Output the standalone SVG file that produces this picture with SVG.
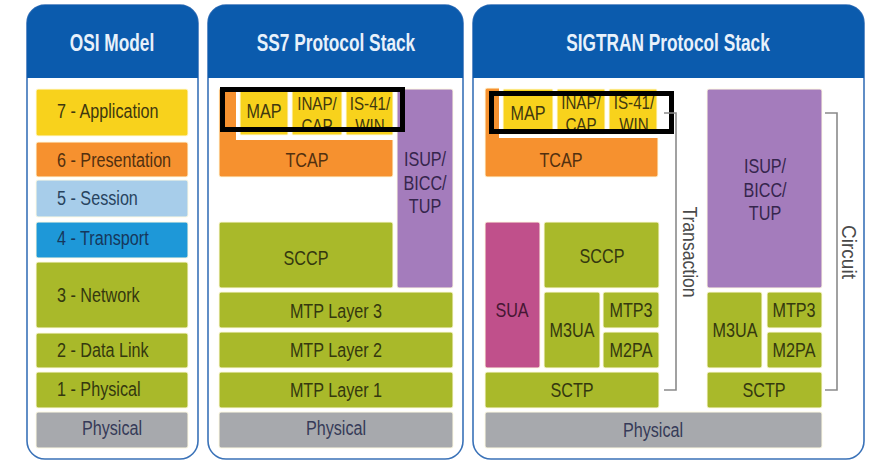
<svg xmlns="http://www.w3.org/2000/svg" width="872" height="461" viewBox="0 0 872 461">
  <style>
    .panel { fill: #ffffff; stroke: #3a72b8; stroke-width: 1.6; }
    .head { fill: #0b5bad; }
    .htxt { font-family: "Liberation Sans", Arial, sans-serif; font-weight: bold; font-size: 24px; fill: #e8f1fb; text-anchor: middle; }
    .t { font-family: "Liberation Sans", Arial, sans-serif; font-size: 21px; text-anchor: middle; }
    .s { font-size: 18.5px; }
    .l { text-anchor: start; }
    .box { stroke: #fffbe3; stroke-width: 1; }
    .yel { fill: #f8d21c; } .tyel { fill: #40380f; }
    .org { fill: #f6912f; } .torg { fill: #52300f; }
    .lbl { fill: #a7cdea; } .tlbl { fill: #28445f; }
    .blu { fill: #1e98d8; } .tblu { fill: #16375c; }
    .olv { fill: #a9b92a; } .tolv { fill: #34380f; }
    .gry { fill: #a7a9ad; } .tgry { fill: #363b58; }
    .pur { fill: #a47cbc; } .tpur { fill: #35254c; }
    .mag { fill: #c0508b; } .tmag { fill: #461733; }
    .wht { fill: #ffffff; }
    .hl { fill: none; stroke: #000000; stroke-width: 5; }
    .brk { fill: none; stroke: #8a8a8a; stroke-width: 1.6; }
    .vt { font-family: "Liberation Sans", Arial, sans-serif; font-size: 20px; fill: #4a4a4a; text-anchor: middle; }
  </style>

  <!-- OSI model column -->
  <g id="osi-panel">
    <path class="panel" d="M27,23 A18,18 0 0 1 45,5 H180 A18,18 0 0 1 198,23 V441 A18,18 0 0 1 180,459 H45 A18,18 0 0 1 27,441 Z"/>
    <path class="head" d="M27,23 A18,18 0 0 1 45,5 H180 A18,18 0 0 1 198,23 V78 H27 Z"/>
    <text class="htxt" transform="translate(112,51) scale(0.72,1)">OSI Model</text>
  </g>
  <g id="osi-application">
    <rect class="box yel" x="36" y="89" width="152" height="47" rx="2"/>
    <text class="t l tyel" transform="translate(57,118) scale(0.77,1)">7 - Application</text>
  </g>
  <g id="osi-presentation">
    <rect class="box org" x="36" y="142" width="152" height="35" rx="2"/>
    <text class="t l torg" transform="translate(57,167) scale(0.77,1)">6 - Presentation</text>
  </g>
  <g id="osi-session">
    <rect class="box lbl" x="36" y="180" width="152" height="37" rx="2"/>
    <text class="t l tlbl" transform="translate(57,205) scale(0.77,1)">5 - Session</text>
  </g>
  <g id="osi-transport">
    <rect class="box blu" x="36" y="222" width="152" height="36" rx="2"/>
    <text class="t l tblu" transform="translate(57,245) scale(0.77,1)">4 - Transport</text>
  </g>
  <g id="osi-network">
    <rect class="box olv" x="36" y="262" width="152" height="66" rx="2"/>
    <text class="t l tolv" transform="translate(57,302) scale(0.77,1)">3 - Network</text>
  </g>
  <g id="osi-datalink">
    <rect class="box olv" x="36" y="333" width="152" height="35" rx="2"/>
    <text class="t l tolv" transform="translate(57,357) scale(0.77,1)">2 - Data Link</text>
  </g>
  <g id="osi-physical-layer">
    <rect class="box olv" x="36" y="372" width="152" height="36" rx="2"/>
    <text class="t l tolv" transform="translate(57,396) scale(0.77,1)">1 - Physical</text>
  </g>
  <g id="osi-physical">
    <rect class="box gry" x="36" y="412" width="152" height="36" rx="2"/>
    <text class="t tgry" transform="translate(112,435) scale(0.77,1)">Physical</text>
  </g>

  <!-- SS7 protocol stack column -->
  <g id="ss7-panel">
    <path class="panel" d="M208,23 A18,18 0 0 1 226,5 H445 A18,18 0 0 1 463,23 V441 A18,18 0 0 1 445,459 H226 A18,18 0 0 1 208,441 Z"/>
    <path class="head" d="M208,23 A18,18 0 0 1 226,5 H445 A18,18 0 0 1 463,23 V78 H208 Z"/>
    <text class="htxt" transform="translate(336,51) scale(0.72,1)">SS7 Protocol Stack</text>
  </g>
  <g id="ss7-tcap">
    <rect class="box org" x="219" y="88" width="174" height="89" rx="2"/>
    <rect class="wht" x="236" y="86" width="158" height="54"/>
    <text class="t torg" transform="translate(307,167) scale(0.77,1)">TCAP</text>
  </g>
  <g id="ss7-map">
    <rect class="box yel" x="240" y="90" width="48" height="45" rx="1"/>
    <text class="t tyel" transform="translate(264,118) scale(0.77,1)">MAP</text>
  </g>
  <g id="ss7-inap">
    <rect class="box yel" x="292" y="90" width="50" height="45" rx="1"/>
    <text class="t s tyel" transform="translate(317,110) scale(0.82,1)">INAP/</text>
    <text class="t s tyel" transform="translate(317,132) scale(0.82,1)">CAP</text>
  </g>
  <g id="ss7-is41">
    <rect class="box yel" x="346" y="90" width="47" height="45" rx="1"/>
    <text class="t s tyel" transform="translate(370,110) scale(0.82,1)">IS-41/</text>
    <text class="t s tyel" transform="translate(370,132) scale(0.82,1)">WIN</text>
  </g>
  <g id="ss7-isup">
    <rect class="box pur" x="397" y="89" width="56" height="199" rx="2"/>
    <text class="t tpur" transform="translate(425,166) scale(0.77,1)">ISUP/</text>
    <text class="t tpur" transform="translate(425,190) scale(0.77,1)">BICC/</text>
    <text class="t tpur" transform="translate(425,213) scale(0.77,1)">TUP</text>
  </g>
  <g id="ss7-sccp">
    <rect class="box olv" x="219" y="222" width="174" height="66" rx="2"/>
    <text class="t tolv" transform="translate(306,265) scale(0.77,1)">SCCP</text>
  </g>
  <g id="ss7-mtp3">
    <rect class="box olv" x="219" y="292" width="234" height="36" rx="2"/>
    <text class="t tolv" transform="translate(336,318) scale(0.77,1)">MTP Layer 3</text>
  </g>
  <g id="ss7-mtp2">
    <rect class="box olv" x="219" y="332" width="234" height="36" rx="2"/>
    <text class="t tolv" transform="translate(336,357) scale(0.77,1)">MTP Layer 2</text>
  </g>
  <g id="ss7-mtp1">
    <rect class="box olv" x="219" y="372" width="234" height="36" rx="2"/>
    <text class="t tolv" transform="translate(336,397) scale(0.77,1)">MTP Layer 1</text>
  </g>
  <g id="ss7-physical">
    <rect class="box gry" x="219" y="412" width="234" height="36" rx="2"/>
    <text class="t tgry" transform="translate(336,435) scale(0.77,1)">Physical</text>
  </g>
  <g id="ss7-highlight">
    <rect class="hl" x="222.5" y="89.5" width="180" height="40"/>
  </g>

  <!-- SIGTRAN protocol stack column -->
  <g id="sigtran-panel">
    <path class="panel" d="M473,23 A18,18 0 0 1 491,5 H846 A18,18 0 0 1 864,23 V441 A18,18 0 0 1 846,459 H491 A18,18 0 0 1 473,441 Z"/>
    <path class="head" d="M473,23 A18,18 0 0 1 491,5 H846 A18,18 0 0 1 864,23 V78 H473 Z"/>
    <text class="htxt" transform="translate(668,51) scale(0.72,1)">SIGTRAN Protocol Stack</text>
  </g>
  <g id="sig-tcap">
    <rect class="box org" x="485" y="88" width="173" height="89" rx="2"/>
    <rect class="wht" x="499" y="86" width="161" height="52"/>
    <text class="t torg" transform="translate(561,167) scale(0.77,1)">TCAP</text>
  </g>
  <g id="sig-map">
    <rect class="box yel" x="503" y="89" width="50" height="45" rx="1"/>
    <text class="t tyel" transform="translate(528,120) scale(0.77,1)">MAP</text>
  </g>
  <g id="sig-inap">
    <rect class="box yel" x="557" y="89" width="48" height="45" rx="1"/>
    <text class="t s tyel" transform="translate(581,109) scale(0.82,1)">INAP/</text>
    <text class="t s tyel" transform="translate(581,131) scale(0.82,1)">CAP</text>
  </g>
  <g id="sig-is41">
    <rect class="box yel" x="609" y="89" width="48" height="45" rx="1"/>
    <text class="t s tyel" transform="translate(634,109) scale(0.82,1)">IS-41/</text>
    <text class="t s tyel" transform="translate(634,131) scale(0.82,1)">WIN</text>
  </g>
  <g id="sig-isup">
    <rect class="box pur" x="707" y="89" width="115" height="199" rx="2"/>
    <text class="t tpur" transform="translate(765,173) scale(0.77,1)">ISUP/</text>
    <text class="t tpur" transform="translate(765,197) scale(0.77,1)">BICC/</text>
    <text class="t tpur" transform="translate(765,220) scale(0.77,1)">TUP</text>
  </g>
  <g id="sig-sua">
    <rect class="box mag" x="485" y="222" width="55" height="146" rx="2"/>
    <text class="t tmag" transform="translate(512,317) scale(0.77,1)">SUA</text>
  </g>
  <g id="sig-sccp">
    <rect class="box olv" x="544" y="222" width="115" height="66" rx="2"/>
    <text class="t tolv" transform="translate(602,263) scale(0.77,1)">SCCP</text>
  </g>
  <g id="sig-m3ua-a">
    <rect class="box olv" x="544" y="292" width="56" height="76" rx="2"/>
    <text class="t tolv" transform="translate(572,337) scale(0.77,1)">M3UA</text>
  </g>
  <g id="sig-mtp3-a">
    <rect class="box olv" x="603" y="292" width="56" height="36" rx="2"/>
    <text class="t tolv" transform="translate(631,317) scale(0.77,1)">MTP3</text>
  </g>
  <g id="sig-m2pa-a">
    <rect class="box olv" x="603" y="332" width="56" height="36" rx="2"/>
    <text class="t tolv" transform="translate(631,357) scale(0.77,1)">M2PA</text>
  </g>
  <g id="sig-sctp-a">
    <rect class="box olv" x="485" y="372" width="174" height="36" rx="2"/>
    <text class="t tolv" transform="translate(572,397) scale(0.77,1)">SCTP</text>
  </g>
  <g id="sig-m3ua-b">
    <rect class="box olv" x="707" y="292" width="55" height="76" rx="2"/>
    <text class="t tolv" transform="translate(735,337) scale(0.77,1)">M3UA</text>
  </g>
  <g id="sig-mtp3-b">
    <rect class="box olv" x="767" y="292" width="55" height="36" rx="2"/>
    <text class="t tolv" transform="translate(794,317) scale(0.77,1)">MTP3</text>
  </g>
  <g id="sig-m2pa-b">
    <rect class="box olv" x="767" y="332" width="55" height="36" rx="2"/>
    <text class="t tolv" transform="translate(794,357) scale(0.77,1)">M2PA</text>
  </g>
  <g id="sig-sctp-b">
    <rect class="box olv" x="707" y="372" width="115" height="36" rx="2"/>
    <text class="t tolv" transform="translate(764,397) scale(0.77,1)">SCTP</text>
  </g>
  <g id="sig-physical">
    <rect class="box gry" x="485" y="412" width="337" height="36" rx="2"/>
    <text class="t tgry" transform="translate(653,437) scale(0.77,1)">Physical</text>
  </g>
  <g id="sig-highlight">
    <rect class="hl" x="491.5" y="93.5" width="180" height="38"/>
  </g>

  <!-- span brackets -->
  <g id="connectors">
    <path class="brk" d="M664,113 H676 V390 H664"/>
    <path class="brk" d="M825,113 H837 V390 H825"/>
  </g>
  <g id="label-transaction">
    <text class="vt" transform="translate(683,252) rotate(90) scale(0.88,1)">Transaction</text>
  </g>
  <g id="label-circuit">
    <text class="vt" transform="translate(842,252) rotate(90) scale(0.95,1)">Circuit</text>
  </g>
</svg>
